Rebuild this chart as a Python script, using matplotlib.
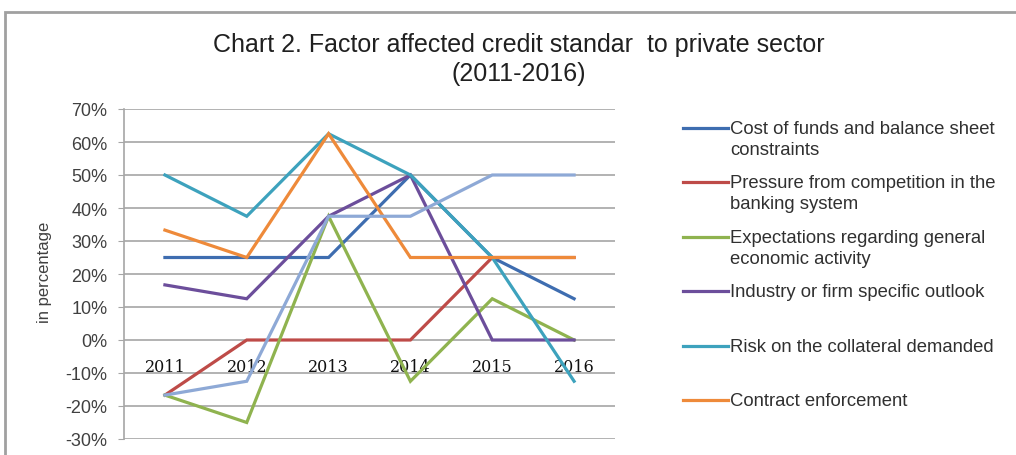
import matplotlib
matplotlib.use("Agg")
import matplotlib.pyplot as plt
from matplotlib.lines import Line2D
from matplotlib.patches import Rectangle
from matplotlib.ticker import FuncFormatter, MultipleLocator

plt.rcParams["font.family"] = ["Liberation Sans", "DejaVu Sans"]

years = ["2011", "2012", "2013", "2014", "2015", "2016"]

cost_of_funds = [25, 25, 25, 50, 25, 12.5]
competition = [-16.7, 0, 0, 0, 25, 25]
expectations = [-16.7, -25, 37.5, -12.5, 12.5, 0]
industry_outlook = [16.7, 12.5, 37.5, 50, 0, 0]
collateral_risk = [50, 37.5, 62.5, 50, 25, -12.5]
contract_enforcement = [33.3, 25, 62.5, 25, 25, 25]
other_factor = [-16.7, -12.5, 37.5, 37.5, 50, 50]

labels = [
    "Cost of funds and balance sheet\nconstraints",
    "Pressure from competition in the\nbanking system",
    "Expectations regarding general\neconomic activity",
    "Industry or firm specific outlook",
    "Risk on the collateral demanded",
    "Contract enforcement",
]
colors = ["#3E6DB0", "#BE4B48", "#8FB34F", "#6C4E9B", "#3DA2BD", "#EE8A3A", "#8EA9D6"]
series = [cost_of_funds, competition, expectations, industry_outlook,
          collateral_risk, contract_enforcement, other_factor]

W, H = 1016, 456
fig = plt.figure(figsize=(W / 100, H / 100), dpi=100)
ax = fig.add_axes([124 / W, 1 - 440 / H, (615 - 124) / W, (440 - 110) / H])

x = list(range(len(years)))
for vals, c in zip(series, colors):
    ax.plot(x, vals, color=c, lw=2.3, solid_joinstyle="miter", zorder=3)

ax.set_xlim(-0.5, len(years) - 0.5)
ax.set_ylim(-30, 70)
ax.yaxis.set_major_locator(MultipleLocator(10))
ax.yaxis.set_major_formatter(FuncFormatter(lambda v, p: f"{v:.0f}%"))
ax.grid(axis="y", color="#A6A6A6", lw=1.2, zorder=1)
ax.set_axisbelow(True)

for s in ["top", "right"]:
    ax.spines[s].set_visible(False)
ax.spines["left"].set_color("#A6A6A6")
ax.spines["left"].set_linewidth(1.2)
ax.spines["bottom"].set_position(("data", 0))
ax.spines["bottom"].set_visible(False)

ax.set_xticks(x)
ax.set_xticklabels(years, fontsize=11.5, color="#101010", family=["DejaVu Serif"])
ax.tick_params(axis="x", length=0, pad=13)
ax.tick_params(axis="y", length=4, color="#A6A6A6", labelsize=13, labelcolor="#404040", pad=8)

fig.text(45 / W, 1 - 272 / H, "in percentage", rotation=90, ha="center", va="center",
         fontsize=12, color="#404040")

fig.text(519 / W, 1 - 45 / H, "Chart 2. Factor affected credit standar  to private sector",
         ha="center", va="center", fontsize=18, color="#202020")
fig.text(519 / W, 1 - 74 / H, "(2011-2016)", ha="center", va="center",
         fontsize=18, color="#202020")

# legend entries drawn by hand, evenly spaced
for i, (lab, c) in enumerate(zip(labels, colors)):
    yl = 129 + 54.4 * i
    fig.add_artist(Line2D([683 / W, 728 / W], [1 - yl / H, 1 - yl / H], color=c, lw=2.3))
    fig.text(730 / W, 1 - (yl - 8) / H, lab, ha="left", va="top", fontsize=13.3,
             color="#303030", linespacing=1.3)

# outer chart frame
fig.add_artist(Rectangle((5 / W, -0.1), 1.2, 1 - 13 / H + 0.1, transform=fig.transFigure,
                         fill=False, edgecolor="#A0A0A0", lw=2))

fig.savefig("out.png", dpi=100, facecolor="white")
